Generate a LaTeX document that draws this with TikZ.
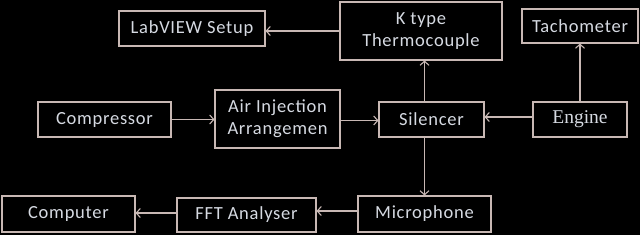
\documentclass[tikz,border=0pt]{standalone}
\usepackage{fontspec}
\setmainfont[LetterSpace=4]{Carlito}
\newfontfamily\engfont{Liberation Serif}
\usetikzlibrary{arrows.meta}
\definecolor{linec}{HTML}{C8B8B4}
\definecolor{textc}{HTML}{D6DAE2}
\begin{document}
\begin{tikzpicture}[x=1pt,y=-1pt,
  blk/.style={draw=linec,line width=1.1pt,text=textc,inner sep=0pt,align=center,
    font=\fontsize{18.5}{22}\selectfont},
  arr/.style={draw=linec,line width=1.1pt,-{Straight Barb[length=4pt,width=9pt,line width=1.1pt]}}]
\fill[black] (0,0) rectangle (640,235);
\useasboundingbox (0,0) rectangle (640,235);
\node[blk,minimum width=146pt,minimum height=35pt] (lab) at (192,28.5) {LabVIEW Setup};
\node[blk,minimum width=162pt,minimum height=58pt] (kt) at (421,31) {K type\\Thermocouple};
\node[blk,minimum width=116pt,minimum height=34pt] (tach) at (580,26) {Tachometer};
\node[blk,minimum width=133pt,minimum height=35pt] (comp) at (104.5,119.5) {Compressor};
\node[blk,minimum width=125pt,minimum height=58pt] (air) at (277.5,119) {Air Injection\\Arrangemen};
\node[blk,minimum width=105pt,minimum height=35pt] (sil) at (431.5,119.5) {Silencer};
\node[blk,minimum width=94pt,minimum height=35pt,font=\engfont\fontsize{19.5}{22}\selectfont] (eng) at (580,119.5) {Engine};
\node[blk,minimum width=133pt,minimum height=36pt] (pc) at (68.5,214) {Computer};
\node[blk,minimum width=139pt,minimum height=34pt] (fft) at (246.5,215) {FFT Analyser};
\node[blk,minimum width=133pt,minimum height=36pt] (mic) at (424.5,214) {Microphone};
\draw[arr] (kt.west) -- (kt.west -| lab.east);
\draw[arr] (sil.north -| mic) -- (kt.south -| mic);
\draw[arr] (eng.north) -- (tach.south);
\draw[arr] (comp.east) -- (comp.east -| air.west);
\draw[arr] ([yshift=-1.5pt]air.east) -- ([yshift=-1.5pt]air.east -| sil.west);
\draw[arr] ([yshift=2.5pt]eng.west) -- ([yshift=2.5pt]eng.west -| sil.east);
\draw[arr] (sil.south -| mic) -- (mic.north);
\draw[arr] ([yshift=3pt]mic.west) -- ([yshift=3pt]mic.west -| fft.east);
\draw[arr] ([yshift=2pt]fft.west) -- ([yshift=2pt]fft.west -| pc.east);
\end{tikzpicture}
\end{document}
